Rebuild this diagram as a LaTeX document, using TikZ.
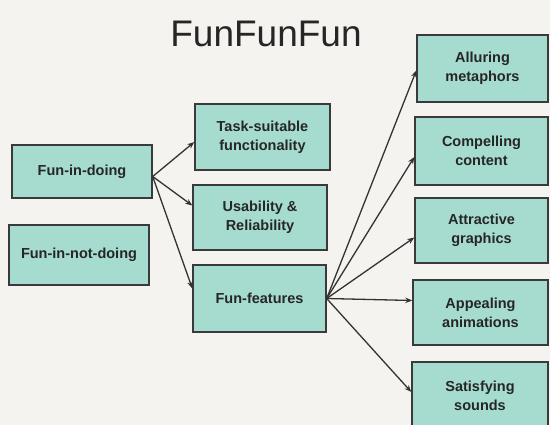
\documentclass[tikz,border=0pt]{standalone}
\usepackage{fontspec}
\setmainfont{Liberation Sans}
\usetikzlibrary{arrows.meta,calc}
\definecolor{boxfill}{HTML}{A6DCD0}
\definecolor{boxline}{HTML}{3A3A3A}
\definecolor{bg}{HTML}{F4F3EF}
\definecolor{arrowcol}{HTML}{333333}
\tikzset{
  box/.style={draw=boxline, line width=1.4pt, fill=boxfill, inner sep=0pt,
    align=center, font=\fontsize{14.5}{19}\selectfont\bfseries, text=black!85},
  conn/.style={draw=arrowcol, line width=1.3pt, -{Stealth[length=7pt,width=5.5pt]}},
}
\newcommand{\boxat}[6]{% name, x1, y1, x2, y2, text
  \node[box, minimum width={#4-#2}, minimum height={#5-#3}] (#1) at ({(#2+#4)/2},{(#3+#5)/2}) {#6};}
\begin{document}
\begin{tikzpicture}[x=1pt,y=-1pt]
\useasboundingbox (0,0) rectangle (550,425);
\fill[bg] (0,0) rectangle (550,425);
\node[font=\fontsize{37}{40}\selectfont, text=black!85] (title) at (266,34) {FunFunFun};
\boxat{fid}{12}{145}{152}{198}{Fun-in-doing}
\boxat{find}{9}{225}{149}{285}{Fun-in-not-doing}
\boxat{ts}{195}{104}{330}{170}{Task-suitable\\functionality}
\boxat{ur}{193}{185}{327}{250}{Usability \&\\Reliability}
\boxat{ff}{193}{265}{326}{332}{Fun-features}
\boxat{am}{417}{35}{548}{102}{Alluring\\metaphors}
\boxat{cc}{415}{117}{548}{185}{Compelling\\content}
\boxat{ag}{415}{198}{548}{263}{Attractive\\graphics}
\boxat{an}{413}{280}{548}{345}{Appealing\\animations}
\boxat{ss}{412}{362}{548}{430}{Satisfying\\sounds}
\coordinate (fidout) at ($(fid.east)+(0,5)$);
\draw[conn] (fidout) -- ($(ts.west)+(0,5)$);
\draw[conn] (fidout) -- ($(ur.west)+(0,-12)$);
\draw[conn] (fidout) -- ($(ff.west)+(0,-10)$);
\draw[conn] (ff.east) -- ($(am.west)+(0,2)$);
\draw[conn] (ff.east) -- ($(cc.west)+(0,6)$);
\draw[conn] (ff.east) -- ($(ag.west)+(0,7)$);
\draw[conn] (ff.east) -- ($(an.west)+(0,-12)$);
\draw[conn] (ff.east) -- ($(ss.west)+(0,-4)$);
\end{tikzpicture}
\end{document}
